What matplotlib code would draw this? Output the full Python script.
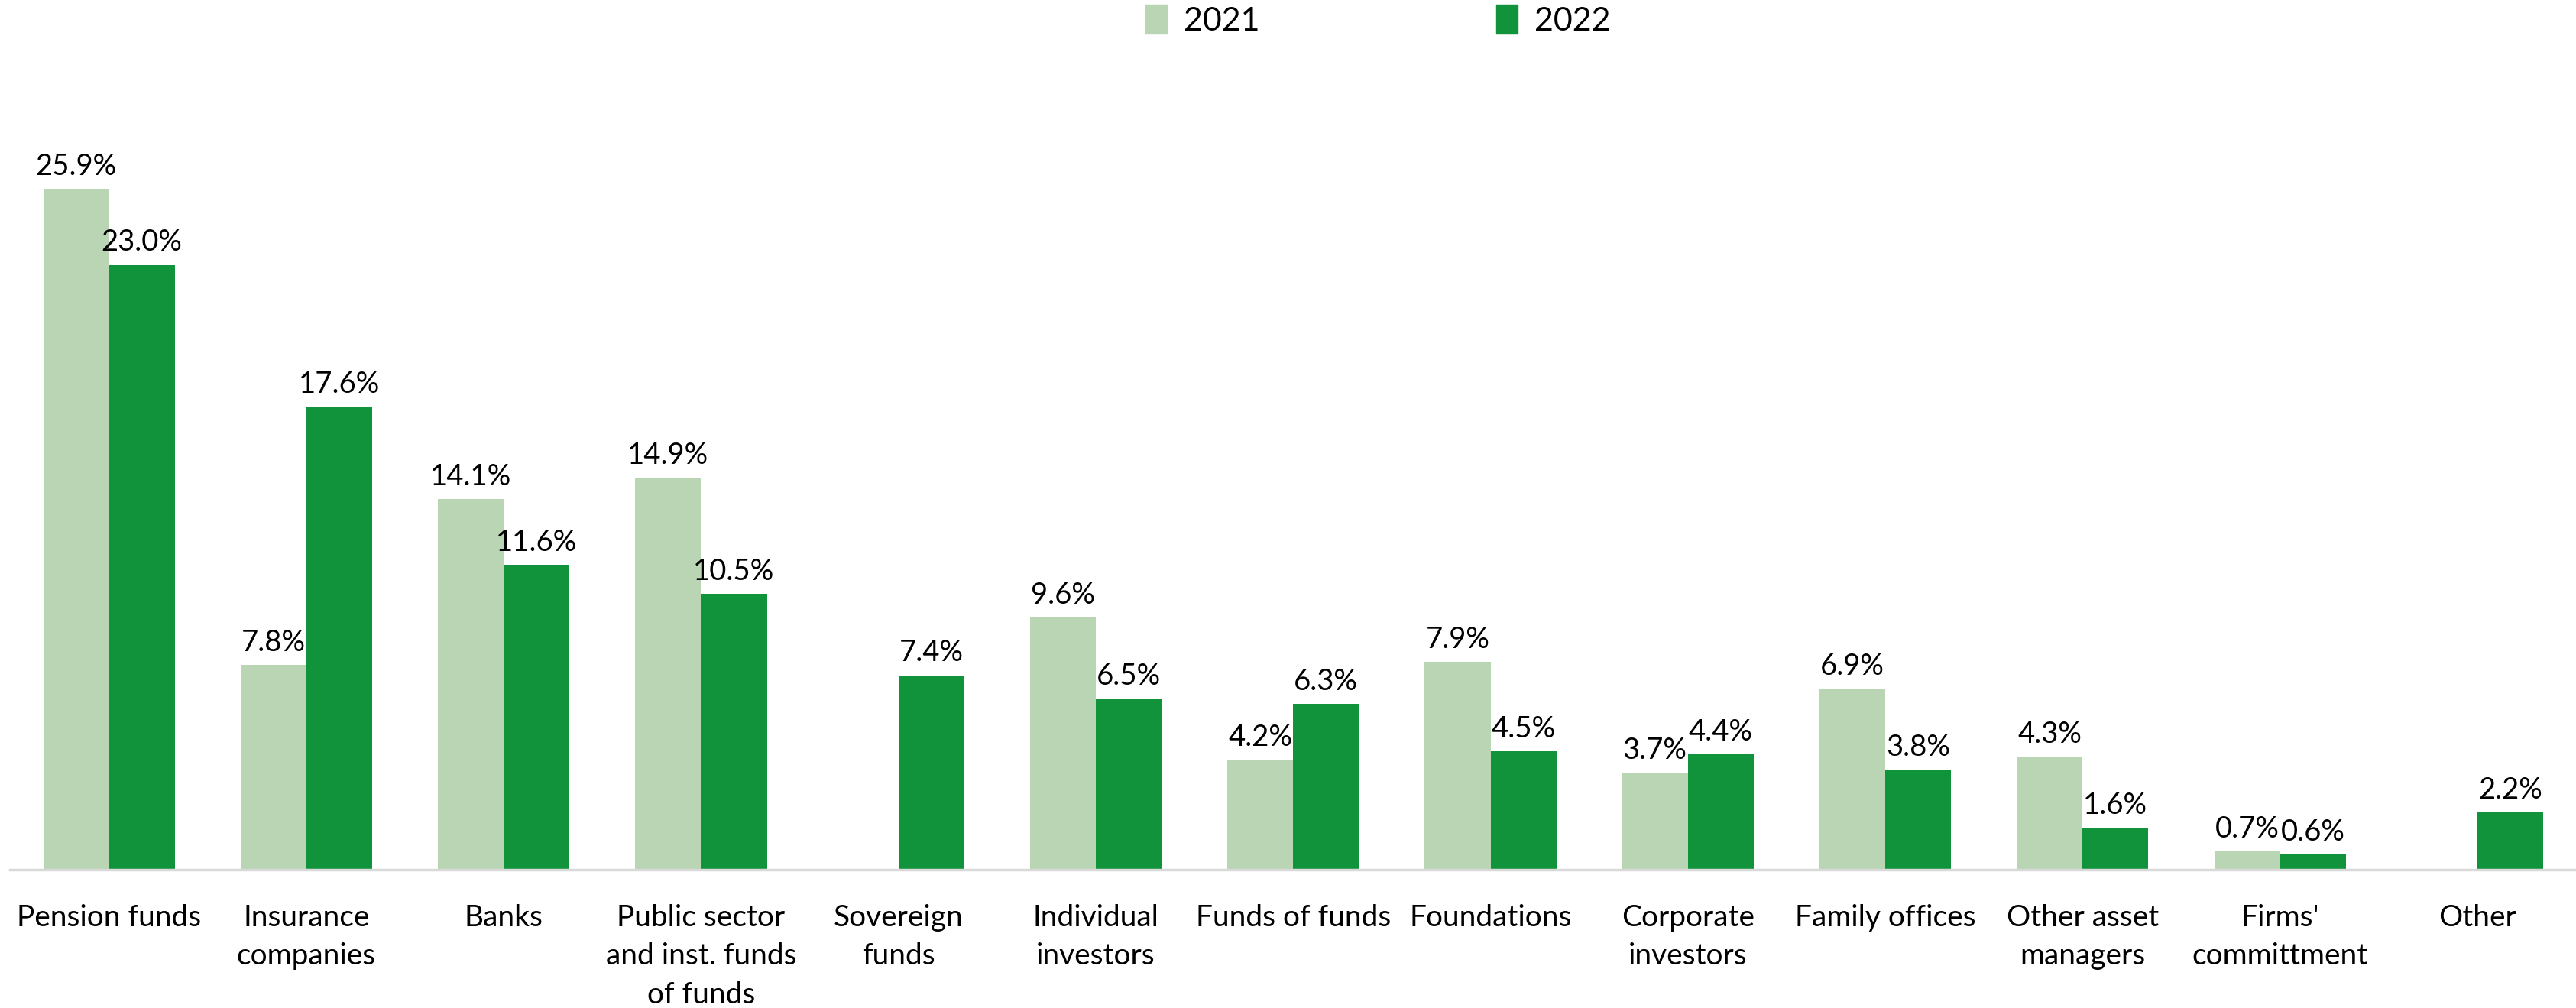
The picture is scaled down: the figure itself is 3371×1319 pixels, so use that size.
import matplotlib.pyplot as plt
import numpy as np
from matplotlib.patches import Patch

plt.rcParams['font.family'] = ['Lato', 'DejaVu Sans']

categories = ["Pension funds", "Insurance\ncompanies", "Banks",
              "Public sector\nand inst. funds\nof funds", "Sovereign\nfunds",
              "Individual\ninvestors", "Funds of funds", "Foundations",
              "Corporate\ninvestors", "Family offices", "Other asset\nmanagers",
              "Firms'\ncommittment", "Other"]
share_2021 = [25.9, 7.8, 14.1, 14.9, None, 9.6, 4.2, 7.9, 3.7, 6.9, 4.3, 0.7, None]
share_2022 = [23.0, 17.6, 11.6, 10.5, 7.4, 6.5, 6.3, 4.5, 4.4, 3.8, 1.6, 0.6, 2.2]
years = ["2021", "2022"]

light = '#bad5b3'
dark = '#10933b'

fig = plt.figure(figsize=(33.71, 13.19), dpi=100)
ax = fig.add_axes([0.004, 0.137, 0.996, 0.783])

x = np.arange(len(categories))
w = 1 / 3

for series, colour, shift in [(share_2021, light, -w / 2), (share_2022, dark, w / 2)]:
    for xi, v in zip(x, series):
        if v is None:
            continue
        ax.bar(xi + shift, v, width=w, color=colour, edgecolor='none')
        ax.annotate(f"{v:.1f}%", (xi + shift, v), xytext=(0, 13),
                    textcoords='offset points', ha='center', va='baseline',
                    fontsize=27.5, color='black')

ax.set_xlim(-0.5, len(categories) - 0.5)
ax.set_ylim(0, 30)
ax.set_xticks(x)
ax.set_xticklabels(categories, fontsize=28, linespacing=1.5)
ax.tick_params(axis='x', length=0, pad=32)
ax.set_yticks([])
for side in ['left', 'right', 'top']:
    ax.spines[side].set_visible(False)
ax.spines['bottom'].set_color('#d9d9d9')
ax.spines['bottom'].set_linewidth(2.5)

handles = [Patch(color=light, label=years[0]), Patch(color=dark, label=years[1])]
fig.legend(handles=handles, ncol=2, loc='upper center', bbox_to_anchor=(0.535, 1.025),
           frameon=False, fontsize=31, handlelength=0.65, handleheight=1.0,
           handletextpad=0.5, columnspacing=7.2)

fig.savefig('out.png', dpi=100, facecolor='white')
